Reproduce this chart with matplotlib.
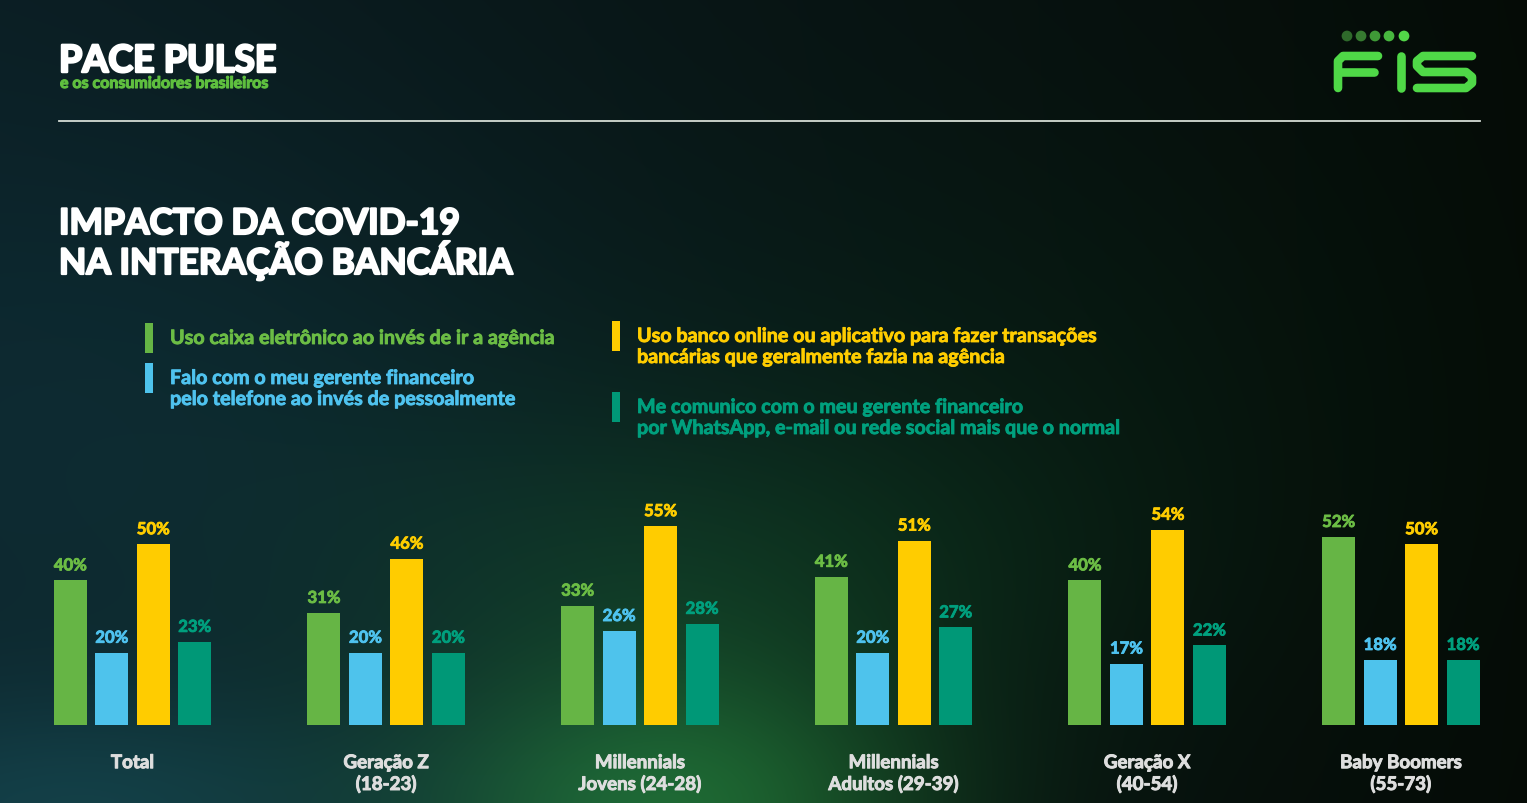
import numpy as np
import matplotlib.pyplot as plt
import matplotlib.patheffects as pe
from matplotlib.patches import Rectangle

# data
groups = ['Total', 'Geração Z\n(18-23)', 'Millennials\nJovens (24-28)',
          'Millennials\nAdultos (29-39)', 'Geração X\n(40-54)', 'Baby Boomers\n(55-73)']
caixa = [40, 31, 33, 41, 40, 52]
telefone = [20, 20, 26, 20, 17, 18]
online = [50, 46, 55, 51, 54, 50]
whatsapp = [23, 20, 28, 27, 22, 18]
series = [caixa, telefone, online, whatsapp]
series_names = ['Uso caixa eletrônico ao invés de ir a agência',
                'Falo com o meu gerente financeiro\npelo telefone ao invés de pessoalmente',
                'Uso banco online ou aplicativo para fazer transações\nbancárias que geralmente fazia na agência',
                'Me comunico com o meu gerente financeiro\npor WhatsApp, e-mail ou rede social mais que o normal']
bar_colors = ['#66b545', '#4ec3ec', '#ffcc00', '#009877']
text_colors = ['#6cbd45', '#4fc3ef', '#ffcd00', '#00a07e']

W, H = 1527, 804
plt.rcParams['font.family'] = ['Lato', 'DejaVu Sans']
fig = plt.figure(figsize=(W / 100, H / 100), dpi=100)


def heavy(col, w=1.0):
    # thicken glyphs a little, the source font is heavier than Lato Bold
    return [pe.withStroke(linewidth=w, foreground=col)]


# background
bg = fig.add_axes([0, 0, 1, 1])
xx, yy = np.meshgrid(np.arange(W), np.arange(H))
t = xx / W
left = np.array([0.043, 0.11, 0.13])
right = np.array([0.02, 0.045, 0.025])
img = left[None, None, :] * (1 - t[..., None]) + right[None, None, :] * t[..., None]


def blob(cx, cy, sx, sy, col):
    g = np.exp(-(((xx - cx) / sx) ** 2 + ((yy - cy) / sy) ** 2) / 2)
    return g[..., None] * np.array(col)[None, None, :]


img = img + blob(150, 450, 350, 250, (0.01, 0.06, 0.07))
img = img + blob(680, 820, 180, 110, (0.08, 0.30, 0.10))
img = img + blob(700, 580, 260, 120, (0.02, 0.09, 0.03))
img = img + blob(80, 820, 250, 90, (0.03, 0.12, 0.13))
img = img + blob(1000, 400, 300, 200, (0.0, 0.03, 0.01))
img = np.clip(img, 0, 1)
bg.imshow(img, extent=[0, W, H, 0], aspect='auto', zorder=0)
bg.set_xlim(0, W)
bg.set_ylim(H, 0)
bg.axis('off')

# header
bg.text(59, 73, 'PACE PULSE', color='white', fontsize=27, fontweight='bold', va='baseline',
        path_effects=heavy('white', 1.8))
bg.text(60, 89, 'e os consumidores brasileiros', color='#5fbf3f', fontsize=11.5,
        fontweight='bold', va='baseline', path_effects=heavy('#5fbf3f', 0.8))
bg.plot([59, 1480], [122, 122], color='#d5ddd5', lw=1.3)

# FIS logo
logo = '#4fd847'
kw = dict(color=logo, lw=6.2, solid_capstyle='round', solid_joinstyle='round')
bg.plot([1378, 1343, 1338, 1338], [57, 57, 62, 89], **kw)
bg.plot([1338, 1374], [73, 73], **kw)
bg.plot([1401, 1401], [57, 89], **kw)
bg.plot([1472, 1423, 1417, 1417, 1423, 1466, 1472, 1472, 1466, 1417],
        [57, 57, 62, 67, 73, 73, 78, 84, 89, 89], **kw)
dot_cols = ['#2f6a2b', '#367a30', '#3f9a37', '#48b83f', '#52d648']
bg.scatter([1347, 1361, 1375, 1389, 1404], [37] * 5, s=60, c=dot_cols, linewidths=0)

# title
for ty, line in zip([235, 275], ['IMPACTO DA COVID-19', 'NA INTERAÇÃO BANCÁRIA']):
    bg.text(59, ty, line, color='white', fontsize=25.5, fontweight='bold', va='baseline',
            path_effects=heavy('white', 1.6))

# legend
leg_pos = [(145, 339), (145, 379), (612, 337), (612, 408)]
for (lx, ly), name, bc, tc in zip(leg_pos, series_names, bar_colors, text_colors):
    bg.add_patch(Rectangle((lx, ly - 15), 8, 30, color=bc, lw=0))
    for k, line in enumerate(name.split('\n')):
        bg.text(lx + 25, ly + 6 + 21 * k, line, color=tc, fontsize=14.2, fontweight='bold',
                va='baseline', path_effects=heavy(tc, 0.6))

# bars
ax = fig.add_axes([5.65 / W, 78 / H, 1522 / W, 217 / H])
ax.patch.set_alpha(0)
x = np.arange(len(groups))
step, width = 0.1635, 0.13
for j, vals in enumerate(series):
    bars = ax.bar(x + (j - 1.5) * step, vals, width, color=bar_colors[j], lw=0)
    labs = ax.bar_label(bars, labels=[f'{v}%' for v in vals], padding=5, color=text_colors[j],
                        fontsize=12, fontweight='bold')
    for lab in labs:
        lab.set_path_effects(heavy(text_colors[j], 0.6))
ax.set_xlim(-0.5, len(groups) - 0.5)
ax.set_ylim(0, 60)
ax.set_xticks(x)
ax.set_xticklabels(groups, color='#dedede', fontsize=13.5, fontweight='bold', linespacing=1.25)
for lab in ax.get_xticklabels():
    lab.set_path_effects(heavy('#dedede', 0.7))
ax.tick_params(axis='x', length=0, pad=21)
ax.set_yticks([])
for s in ax.spines.values():
    s.set_visible(False)

fig.savefig('out.png', dpi=100)
